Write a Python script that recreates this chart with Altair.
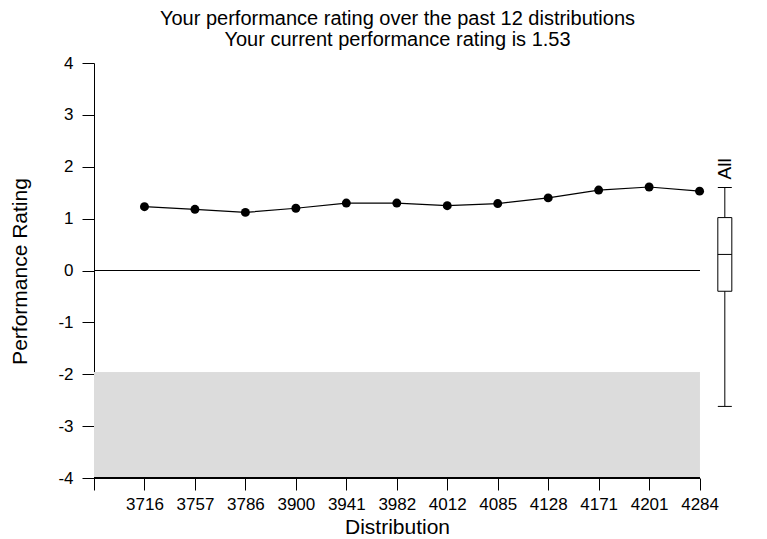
import altair as alt
import pandas as pd

# ---- data ----
distributions = ["3716", "3757", "3786", "3900", "3941", "3982",
                 "4012", "4085", "4128", "4171", "4201", "4284"]
ratings = [1.23, 1.18, 1.12, 1.20, 1.30, 1.30, 1.25, 1.29, 1.40, 1.55, 1.61, 1.53]

# box plot of all ratings ("All")
box_label = "All"
box_low = -2.62
box_q1 = -0.40
box_median = 0.31
box_q3 = 1.02
box_high = 1.60

# shaded low-performance band
band_top = -1.96
band_bottom = -4.0

y_ticks = [-4, -3, -2, -1, 0, 1, 2, 3, 4]
title_lines = ["Your performance rating over the past 12 distributions",
               "Your current performance rating is 1.53"]

# ---- tables ----
n = len(distributions)
pts = pd.DataFrame({"idx": list(range(1, n + 1)), "dist": distributions, "rating": ratings})
box_x = n + 0.5
box_df = pd.DataFrame({"x": [box_x], "low": [box_low], "q1": [box_q1], "med": [box_median],
                       "q3": [box_q3], "high": [box_high], "label": [box_label]})
ticks_df = pd.DataFrame({"x": [box_x] * 3, "y": [box_low, box_median, box_high]})

FONT = "Liberation Sans"
W, H = 651, 415
xscale = alt.Scale(domain=[0, 12.9], nice=False, zero=False, padding=0)
yscale = alt.Scale(domain=[-4, 4], nice=False, zero=False, padding=0)

label_arr = "[''," + ",".join(f"'{d}'" for d in distributions) + "]"

x_axis = alt.Axis(values=list(range(0, n + 1)), labelExpr=f"{label_arr}[datum.value]",
                  domain=False, title="Distribution", titleX=303, titleY=55,
                  titleBaseline="alphabetic", titleAlign="center", labelFontSize=17)
y_axis = alt.Axis(values=y_ticks, labelExpr="datum.value + ''", title="Performance Rating",
                  titleX=-74, titleY=208, titleAngle=-90, titleBaseline="middle",
                  titleAlign="center")


def X(field):
    return alt.X(field, type="quantitative", scale=xscale, axis=x_axis)


def Y(field):
    return alt.Y(field, type="quantitative", scale=yscale, axis=y_axis)


def XD(v):
    return alt.datum(v, type="quantitative", scale=xscale, axis=x_axis)


def YD(v):
    return alt.datum(v, type="quantitative", scale=yscale, axis=y_axis)


band = alt.Chart(pts).mark_rect(color="#dcdcdc").encode(
    x=XD(0), x2=alt.datum(n), y=YD(band_top), y2=alt.datum(band_bottom))

zero_line = alt.Chart(pts).mark_rule(color="black", strokeWidth=1).encode(
    x=XD(0), x2=alt.datum(n), y=YD(0))

x_axis_line = alt.Chart(pts).mark_rule(color="black", strokeWidth=1).encode(
    x=XD(0), x2=alt.datum(n), y=YD(-4))

line = alt.Chart(pts).mark_line(color="black", strokeWidth=1.2).encode(
    x=X("idx"), y=Y("rating"))
points = alt.Chart(pts).mark_circle(color="black", opacity=1, size=80).encode(
    x=X("idx"), y=Y("rating"))

whisker = alt.Chart(box_df).mark_rule(color="black", strokeWidth=1).encode(
    x=X("x"), y=Y("low"), y2="high")
box = alt.Chart(box_df).mark_bar(size=14, fill="white", stroke="black", strokeWidth=1).encode(
    x=X("x"), y=Y("q1"), y2="q3")
caps = alt.Chart(ticks_df).mark_tick(orient="horizontal", size=14, thickness=1, color="black",
                                    opacity=1).encode(x=X("x"), y=Y("y"))
all_label = alt.Chart(box_df).mark_text(angle=270, align="left", baseline="middle", dx=8,
                                        font=FONT, fontSize=19, color="black").encode(
    x=X("x"), y=Y("high"), text="label:N")

chart = alt.layer(band, zero_line, x_axis_line, line, points, whisker, box, caps, all_label).properties(
    width=W, height=H,
    background="white",
    title=alt.TitleParams(text=title_lines, font=FONT, fontSize=20, fontWeight="normal",
                          color="black", anchor="middle", dx=-22, offset=4, lineHeight=21),
    autosize=alt.AutoSizeParams(type="none"),
    padding={"left": 86, "top": 55, "right": 10, "bottom": 61},
).configure_view(stroke=None).configure_axis(
    grid=False, domainColor="black", tickColor="black", tickSize=12,
    labelFont=FONT, labelFontSize=17, labelColor="black",
    titleFont=FONT, titleFontSize=21, titleFontWeight="normal", titleColor="black",
).configure_axisX(labelPadding=6, labelAngle=0, labelOverlap=False, labelFlush=False
).configure_axisY(labelPadding=9)

chart.save("out.html", embed_options={"renderer": "svg", "actions": False})
